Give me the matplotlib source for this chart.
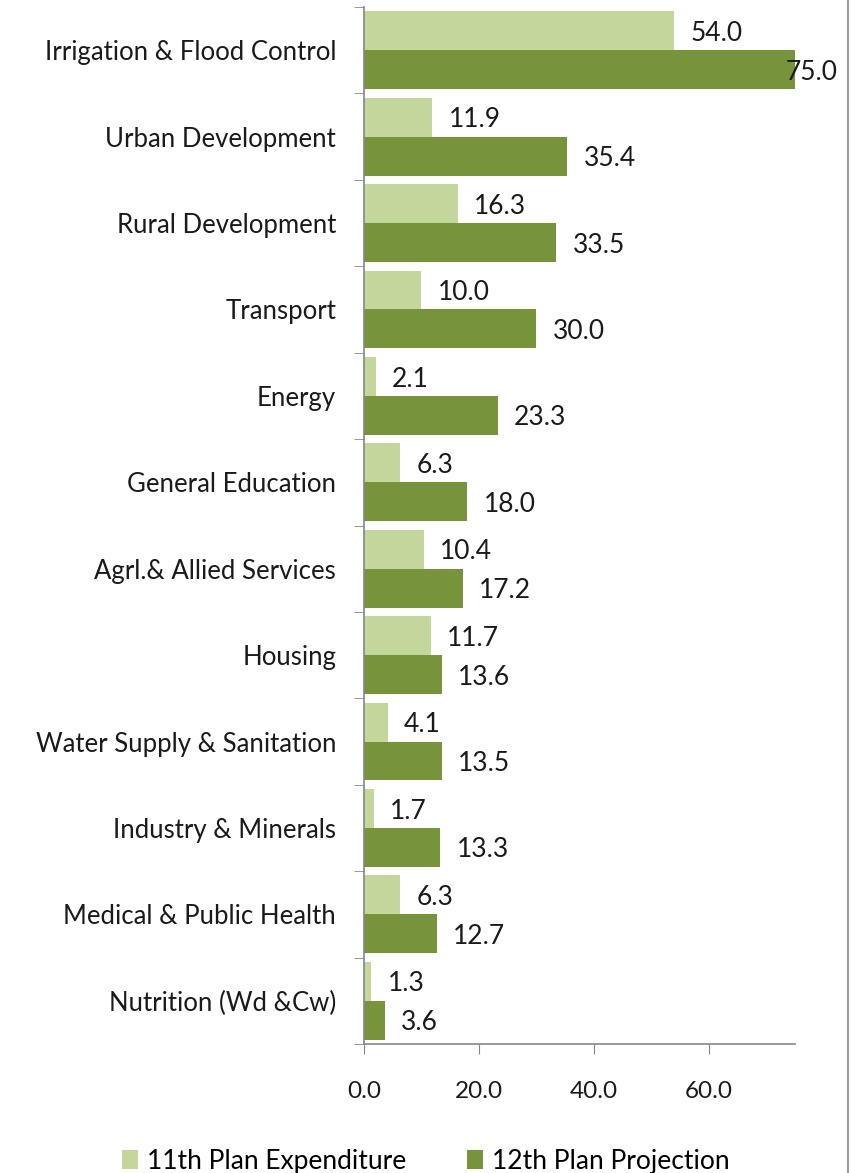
import matplotlib
matplotlib.use("Agg")
import matplotlib.pyplot as plt
from matplotlib.lines import Line2D
import numpy as np

plt.rcParams['font.family'] = ['Lato', 'DejaVu Sans']

# data (top to bottom as shown)
categories = ["Irrigation & Flood Control", "Urban Development", "Rural Development",
              "Transport", "Energy", "General Education", "Agrl.& Allied Services",
              "Housing", "Water Supply & Sanitation", "Industry & Minerals",
              "Medical & Public Health", "Nutrition (Wd &Cw)"]
plan11 = [54.0, 11.9, 16.3, 10.0, 2.1, 6.3, 10.4, 11.7, 4.1, 1.7, 6.3, 1.3]
plan12 = [75.0, 35.4, 33.5, 30.0, 23.3, 18.0, 17.2, 13.6, 13.5, 13.3, 12.7, 3.6]
xticks = [0, 20, 40, 60]

light = '#C3D69B'
dark = '#77933C'
grey = '#868686'

fig = plt.figure(figsize=(8.52, 11.73), dpi=100)
ax = fig.add_axes([0.4272, 0.110, 0.5059, 0.884])

n = len(categories)
pos = np.arange(n)
h = 0.45
ax.barh(pos - h / 2, plan11, height=h, color=light, label='11th Plan Expenditure')
ax.barh(pos + h / 2, plan12, height=h, color=dark, label='12th Plan Projection')

xmax = 75
ax.set_xlim(0, xmax)
ax.set_ylim(n - 0.5, -0.5)

# value labels
for i in range(n):
    for v, yy in ((plan11[i], pos[i] - h / 2), (plan12[i], pos[i] + h / 2)):
        tx = min(v + 2.8, 73.4)
        ax.text(tx, yy + 0.03, '%.1f' % v, ha='left', va='center', fontsize=19,
                color='#1a1a1a', clip_on=False)

ax.set_yticks(pos)
ax.set_yticklabels(categories, fontsize=18.5, color='#1a1a1a')
ax.tick_params(axis='y', which='major', length=0, pad=20)
ax.set_yticks(np.arange(-0.5, n, 1), minor=True)
ax.tick_params(axis='y', which='minor', length=7, color=grey, direction='out')

ax.set_xticks(xticks)
ax.set_xticklabels(['%.1f' % t for t in xticks], fontsize=17.5, color='#1a1a1a')
ax.tick_params(axis='x', length=7, color=grey, direction='out', pad=20)

for s in ['top', 'right']:
    ax.spines[s].set_visible(False)
for s in ['left', 'bottom']:
    ax.spines[s].set_color(grey)
    ax.spines[s].set_linewidth(1.2)

fig.legend(loc='lower center', bbox_to_anchor=(0.5, -0.021), ncol=2, frameon=False,
           fontsize=19, handlelength=0.6, handleheight=0.75, handletextpad=0.35,
           columnspacing=2.3)

# chart border on the right
fig.add_artist(Line2D([0.995, 0.995], [0.0, 1.0], color='#9a9a9a', linewidth=1.5))

fig.savefig('out.png', dpi=100)
